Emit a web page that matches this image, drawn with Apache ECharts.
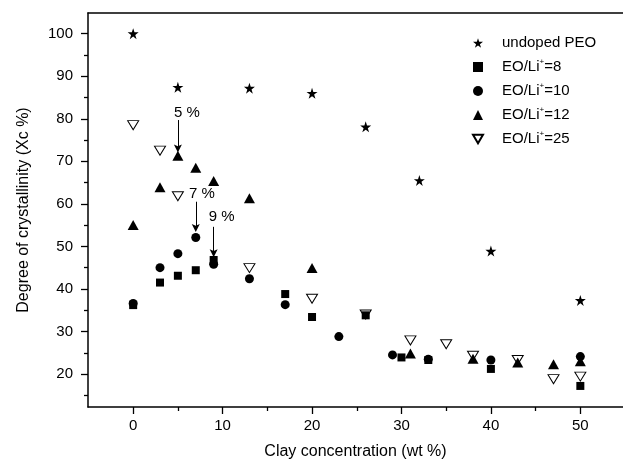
<!DOCTYPE html>
<html>
<head>
<meta charset="utf-8">
<script src="https://cdn.jsdelivr.net/npm/echarts@6/dist/echarts.min.js"></script>
<style>
  html, body { margin: 0; padding: 0; background: #fff; }
  #chart { width: 623px; height: 467px; }
</style>
</head>
<body>
<div id="chart"></div>
<script>
  // values
  var undopedX = [0, 5, 13, 20, 26, 32, 40, 50];
  var undopedY = [100, 87.4, 87.2, 86.0, 78.1, 65.5, 48.9, 37.3];
  var eo8X = [0, 3, 5, 7, 9, 17, 20, 26, 30, 33, 40, 50];
  var eo8Y = [36.2, 41.5, 43.1, 44.4, 46.8, 38.8, 33.4, 33.8, 23.9, 23.3, 21.2, 17.2];
  var eo10X = [0, 3, 5, 7, 9, 13, 17, 23, 29, 33, 40, 50];
  var eo10Y = [36.6, 45.0, 48.3, 52.1, 45.8, 42.4, 36.3, 28.8, 24.5, 23.5, 23.3, 24.1];
  var eo12X = [0, 3, 5, 7, 9, 13, 20, 31, 38, 43, 47, 50];
  var eo12Y = [55.0, 63.9, 71.3, 68.5, 65.4, 61.3, 44.9, 24.8, 23.6, 22.7, 22.3, 23.0];
  var eo25X = [0, 3, 5, 13, 20, 26, 31, 35, 38, 43, 47, 50];
  var eo25Y = [78.5, 72.5, 61.8, 44.9, 37.7, 34.0, 27.9, 27.0, 24.3, 23.3, 18.8, 19.4];

  var seriesNames = ['undoped PEO', 'EO/Li+=8', 'EO/Li+=10', 'EO/Li+=12', 'EO/Li+=25'];

  var xMajorTicks = [0, 10, 20, 30, 40, 50];
  var xMinorTicks = [5, 15, 25, 35, 45];
  var yMajorTicks = [20, 30, 40, 50, 60, 70, 80, 90, 100];
  var yMinorTicks = [15, 25, 35, 45, 55, 65, 75, 85, 95];

  // arrows with their labels (5 %, 7 %, 9 %)
  var annoLabels = ['5 %', '7 %', '9 %'];
  var annoX = [5, 7, 9];
  var annoFrom = [79.7, 60.5, 54.6];
  var annoTo = [73.0, 54.3, 48.4];
  var annoTextX = [6.0, 7.7, 9.9];
  var annoTextY = [81.4, 62.3, 57.0];

  var FONT = '"Liberation Sans", Arial, Helvetica, sans-serif';
  var STAR = 'path://M50,0 L61.8,36.2 L100,36.2 L69.1,58.8 L80.9,95.1 L50,72.6 L19.1,95.1 L30.9,58.8 L0,36.2 L38.2,36.2 Z';
  var DOWN_TRI = 'path://M0,0 L100,0 L50,86 Z';
  var ARROW = 'path://M5,0 L9,14 L5,11 L1,14 Z';

  function pairs(xs, ys) {
    return xs.map(function (x, i) { return [x, ys[i]]; });
  }

  var chart = echarts.init(document.getElementById('chart'));

  var xMin = -5.05, xMax = 54.77, yMin = 12.25, yMax = 104.86;

  var arrowLines = annoX.map(function (x, i) {
    return [{coord: [x, annoFrom[i]]}, {coord: [x, annoTo[i]]}];
  });
  var arrowTexts = annoLabels.map(function (t, i) {
    return {name: t, coord: [annoTextX[i], annoTextY[i]]};
  });

  var option = {
    backgroundColor: '#fff',
    animation: false,
    grid: {left: 88, top: 13, right: 0, bottom: 60},
    legend: {
      data: seriesNames,
      orient: 'vertical',
      left: 467,
      top: 29,
      itemWidth: 10,
      itemHeight: 10,
      itemGap: 6,
      textStyle: {
        fontFamily: FONT,
        fontSize: 15,
        color: '#000',
        lineHeight: 18,
        padding: [0, 0, 0, 14],
        rich: {
          sup: {fontSize: 8, verticalAlign: 'top', lineHeight: 18, fontFamily: FONT, color: '#000'}
        }
      },
      formatter: function (name) {
        return name.replace('+', '{sup|+}');
      }
    },
    xAxis: [{
      type: 'value',
      min: xMin, max: xMax,
      position: 'bottom',
      name: 'Clay concentration (wt %)',
      nameLocation: 'middle',
      nameGap: 37,
      nameTextStyle: {fontFamily: FONT, fontSize: 16, color: '#000'},
      splitLine: {show: false},
      axisLine: {show: true, onZero: false, lineStyle: {color: '#000', width: 1.5}},
      axisTick: {show: true, inside: false, length: 7, customValues: xMajorTicks, lineStyle: {color: '#000', width: 1.3}},
      axisLabel: {customValues: xMajorTicks, margin: 11, fontFamily: FONT, fontSize: 15, color: '#000'}
    }, {
      type: 'value',
      min: xMin, max: xMax,
      position: 'bottom',
      splitLine: {show: false},
      axisLine: {show: false, onZero: false},
      axisTick: {show: true, inside: false, length: 4, customValues: xMinorTicks, lineStyle: {color: '#000', width: 1.3}},
      axisLabel: {show: false}
    }, {
      type: 'value',
      min: xMin, max: xMax,
      position: 'top',
      splitLine: {show: false},
      axisLine: {show: true, onZero: false, lineStyle: {color: '#000', width: 1.5}},
      axisTick: {show: false},
      axisLabel: {show: false}
    }],
    yAxis: [{
      type: 'value',
      min: yMin, max: yMax,
      position: 'left',
      name: 'Degree of crystallinity (Xc %)',
      nameLocation: 'middle',
      nameGap: 56,
      nameTextStyle: {fontFamily: FONT, fontSize: 16, color: '#000'},
      splitLine: {show: false},
      axisLine: {show: true, onZero: false, lineStyle: {color: '#000', width: 1.5}},
      axisTick: {show: true, inside: false, length: 7, customValues: yMajorTicks, lineStyle: {color: '#000', width: 1.3}},
      axisLabel: {customValues: yMajorTicks, margin: 15, fontFamily: FONT, fontSize: 15, color: '#000'}
    }, {
      type: 'value',
      min: yMin, max: yMax,
      position: 'left',
      splitLine: {show: false},
      axisLine: {show: false, onZero: false},
      axisTick: {show: true, inside: false, length: 4, customValues: yMinorTicks, lineStyle: {color: '#000', width: 1.3}},
      axisLabel: {show: false}
    }],
    series: [{
      name: 'EO/Li+=25',
      type: 'scatter',
      symbol: DOWN_TRI,
      symbolSize: [11, 9],
      itemStyle: {color: 'rgba(255,255,255,0)', borderColor: '#000', borderWidth: 1, opacity: 1},
      data: pairs(eo25X, eo25Y)
    }, {
      name: 'undoped PEO',
      type: 'scatter',
      symbol: STAR,
      symbolSize: 11,
      itemStyle: {color: '#000', opacity: 1},
      data: pairs(undopedX, undopedY)
    }, {
      name: 'EO/Li+=8',
      type: 'scatter',
      symbol: 'rect',
      symbolSize: 8,
      itemStyle: {color: '#000', opacity: 1},
      data: pairs(eo8X, eo8Y)
    }, {
      name: 'EO/Li+=10',
      type: 'scatter',
      symbol: 'circle',
      symbolSize: 9,
      itemStyle: {color: '#000', opacity: 1},
      data: pairs(eo10X, eo10Y)
    }, {
      name: 'EO/Li+=12',
      type: 'scatter',
      symbol: 'triangle',
      symbolSize: [11, 10],
      itemStyle: {color: '#000', opacity: 1},
      data: pairs(eo12X, eo12Y),
      markLine: {
        silent: true,
        symbol: ['none', ARROW],
        symbolSize: 8,
        label: {show: false},
        lineStyle: {color: '#000', width: 1, type: 'solid', opacity: 1},
        data: arrowLines
      },
      markPoint: {
        silent: true,
        symbol: 'circle',
        symbolSize: 1,
        itemStyle: {color: 'rgba(0,0,0,0)'},
        label: {show: true, position: 'inside', formatter: '{b}', fontFamily: FONT, fontSize: 15, color: '#000'},
        data: arrowTexts
      }
    }]
  };

  chart.setOption(option);
</script>
</body>
</html>
